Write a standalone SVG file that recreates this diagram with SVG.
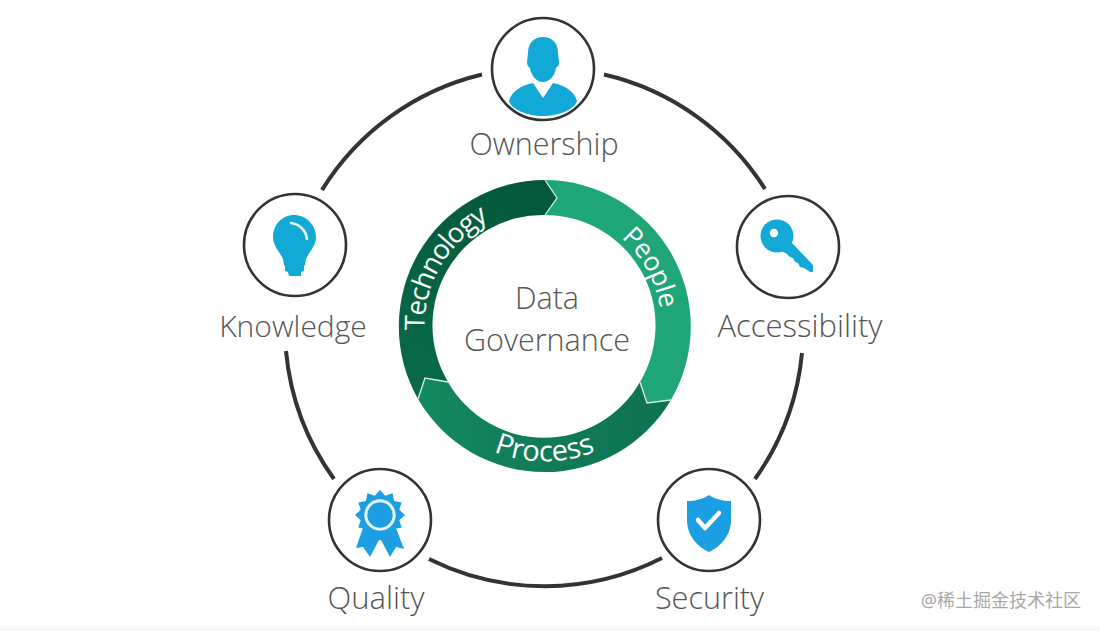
<svg xmlns="http://www.w3.org/2000/svg" width="1100" height="631" viewBox="0 0 1100 631">
<style>
.bg{fill:#fff}
.arc{fill:none;stroke:#333;stroke-width:4;stroke-linecap:butt}
.node{fill:#fff;stroke:#333;stroke-width:2.6}
.lbl{font-family:"Open Sans","Noto Sans","Liberation Sans",sans-serif;font-weight:300;font-size:31px;fill:#555;text-anchor:middle}
.rt{font-family:"Open Sans","Noto Sans","Liberation Sans",sans-serif;font-weight:400;font-size:29px;fill:#fff;text-anchor:middle}
.seg{stroke:none}
.edge{fill:none;stroke:#d4efe4;stroke-width:1.3}
.ic{fill:#13a9d6}
.ic2{fill:#1b9fe2}
</style>
<defs>
<linearGradient id="gProc" gradientUnits="userSpaceOnUse" x1="671" y1="400" x2="418" y2="400"><stop offset="0" stop-color="#0d7150"/><stop offset="1" stop-color="#14885f"/></linearGradient>
<linearGradient id="gTech" gradientUnits="userSpaceOnUse" x1="545" y1="190" x2="420" y2="390"><stop offset="0" stop-color="#03583a"/><stop offset="1" stop-color="#086a48"/></linearGradient>
<path id="pPeople" d="M 544.5 209.5 A 117 117 0 0 1 643.7 388.5"/>
<path id="pTech" d="M 484.5 430.4 A 120 120 0 0 1 424.5 326.5 A 120 120 0 0 1 604.5 222.6"/>
<path id="pProc" d="M 409.5 326.5 A 135 135 0 0 0 679.5 326.5"/>
</defs>
<rect class="bg" width="1100" height="631"/>
<rect x="0" y="627" width="1100" height="4" fill="#f8f8f8"/>
<g id="connectors">
<path class="arc" d="M 322 190 A 259 259 0 0 1 482 74.5"/>
<path class="arc" d="M 604 74.5 A 259 259 0 0 1 765 189"/>
<path class="arc" d="M 802 353 A 259 259 0 0 1 755 479"/>
<path class="arc" d="M 662 558 A 259 259 0 0 1 429 559"/>
<path class="arc" d="M 334 479 A 259 259 0 0 1 286 351"/>
</g>
<g id="ring">
<path class="seg" fill="#1fa678" d="M 545 180 A 146.5 146.5 0 0 1 671 400 L 647 403 L 640 382 A 110.5 110.5 0 0 0 545 215 L 557 198 Z"/>
<path class="seg" fill="url(#gProc)" d="M 671 400 A 146.5 146.5 0 0 1 418 399 L 425 378 L 448 382 A 110.5 110.5 0 0 0 640 382 L 647 403 Z"/>
<path class="seg" fill="url(#gTech)" d="M 418 399 A 146.5 146.5 0 0 1 545 180 L 557 198 L 545 215 A 110.5 110.5 0 0 0 448 382 L 425 378 Z"/>
<path class="edge" d="M 545 180 L 557 198 L 545 215"/>
<path class="edge" d="M 640 382 L 647 403 L 671 400"/>
<path class="edge" d="M 418 399 L 425 378 L 448 382"/>
<text class="rt" style="font-size:26.5px;letter-spacing:-0.4px"><textPath href="#pPeople" startOffset="50%">People</textPath></text>
<text class="rt" style="font-size:27.5px;letter-spacing:-1.3px"><textPath href="#pTech" startOffset="50%">Technology</textPath></text>
<text class="rt"><textPath href="#pProc" startOffset="50%">Process</textPath></text>
</g>
<g id="center">
<text class="lbl" x="547" y="309" style="font-size:30.5px">Data</text>
<text class="lbl" x="547" y="351" style="font-size:30.5px">Governance</text>
</g>
<g id="ownership">
<circle class="node" cx="543" cy="69" r="51"/>
<path class="ic" d="M 543 37 C 553 37 558 44 558 53 L 559 62 C 559 66 557 67 556 68 C 555 76 549 82 543 82 C 537 82 531 76 530 68 C 529 67 527 66 527 62 L 528 53 C 528 44 533 37 543 37 Z"/>
<path class="ic" d="M 533 83 L 543 98 L 553 83 C 565 85 575 92 577 101 C 574 110 558 116 543 116 C 528 116 512 110 509 101 C 511 92 521 85 533 83 Z"/>
<text class="lbl" x="544" y="155" style="font-size:30.5px">Ownership</text>
</g>
<g id="accessibility">
<circle class="node" cx="788" cy="247" r="51"/>
<circle class="ic" cx="777" cy="236" r="16.5"/>
<path class="ic" d="M 786 240 L 793 244 L 813 265 L 813 272 L 810 272 L 804 268 L 800 267 L 798 263 L 795 262 L 793 258 L 790 257 L 787 254 L 780 250 Z"/>
<circle cx="774" cy="233" r="4.2" fill="#fff"/>
<text class="lbl" x="800" y="337">Accessibility</text>
</g>
<g id="knowledge">
<circle class="node" cx="295" cy="245" r="51"/>
<path class="ic" d="M 294 215 C 306 215 316 225 316 237 C 316 246 309 252 306 259 L 305 265 L 304 266 L 304 271 L 301 272 L 301 276 L 289 276 L 288 272 L 285 271 L 285 266 L 284 265 L 283 259 C 280 252 273 246 273 237 C 273 225 282 215 294 215 Z"/>
<path d="M 291 223 C 299 224 306 230 307 239" fill="none" stroke="#e8f7fb" stroke-width="2.6" stroke-linecap="round"/>
<text class="lbl" x="293" y="337" style="font-size:30px">Knowledge</text>
</g>
<g id="quality">
<circle class="node" cx="380" cy="520" r="51"/>
<path class="ic2" d="M 363 528 L 356 548 L 363 547 L 370 557 L 379 540 L 381 540 L 390 557 L 396 547 L 404 549 L 396 528 Z"/>
<path class="ic2" d="M 380 490 L 385.2 495.7 L 392.5 493.3 L 394.1 500.9 L 401.7 502.5 L 399.3 509.8 L 405 515 L 399.3 520.2 L 401.7 527.5 L 394.1 529.1 L 392.5 536.7 L 385.2 534.3 L 380 540 L 374.8 534.3 L 367.5 536.7 L 365.9 529.1 L 358.3 527.5 L 360.7 520.2 L 355 515 L 360.7 509.8 L 358.3 502.5 L 365.9 500.9 L 367.5 493.3 L 374.8 495.7 Z"/>
<circle cx="380" cy="515" r="14.2" fill="none" stroke="#e8f6fc" stroke-width="3"/>
<text class="lbl" x="376" y="609">Quality</text>
</g>
<g id="security">
<circle class="node" cx="709" cy="520" r="51"/>
<path class="ic2" d="M 709 495 C 715 499 723 501 731 501 L 731 520 C 731 536 720 547 709 552 C 698 547 687 536 687 520 L 687 501 C 695 501 703 499 709 495 Z"/>
<path d="M 698 520 L 705 528 L 719 513" fill="none" stroke="#fff" stroke-width="4.5" stroke-linecap="round" stroke-linejoin="round"/>
<text class="lbl" x="709.500" y="609" style="font-size:30.6px">Security</text>
</g>
<text x="1081" y="607" text-anchor="end" font-family="'Noto Sans','Noto Sans CJK SC',sans-serif" font-size="18" fill="#a8a8a8">@稀土掘金技术社区</text>
</svg>
